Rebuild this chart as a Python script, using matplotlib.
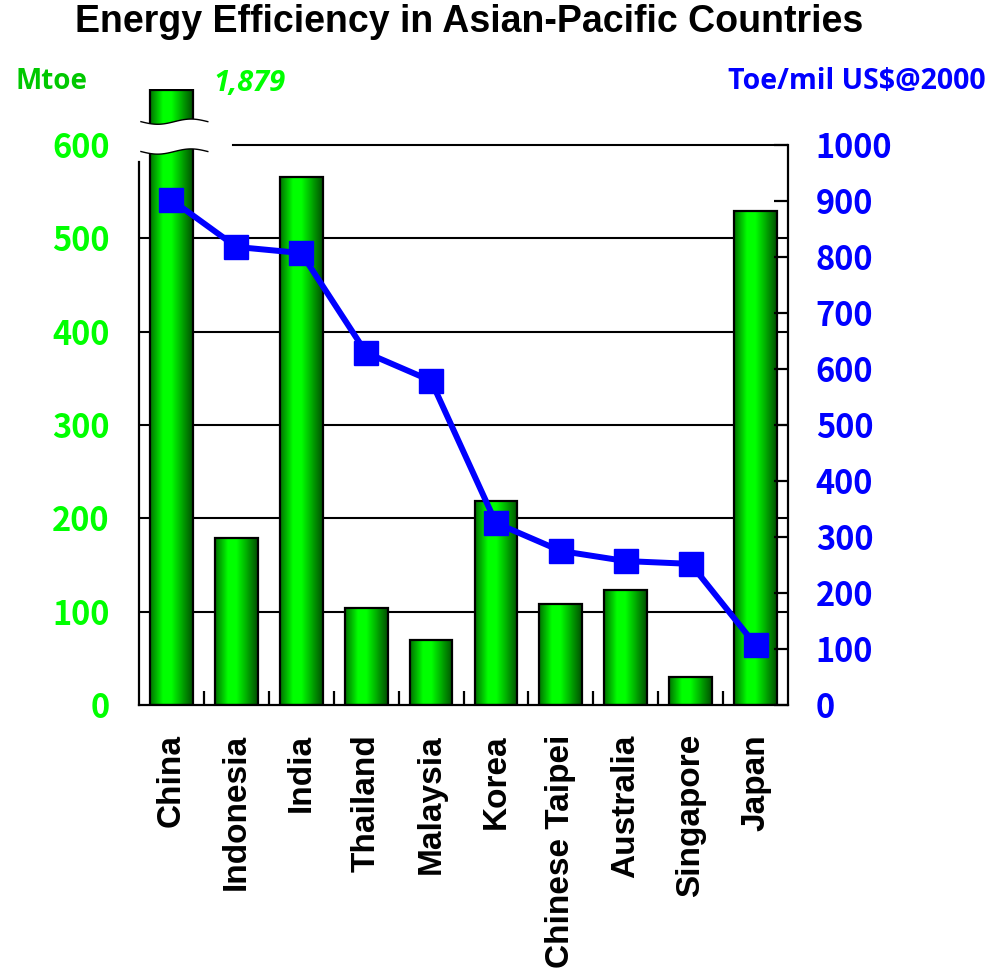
import numpy as np
import matplotlib
matplotlib.use("Agg")
import matplotlib.pyplot as plt
from matplotlib.colors import LinearSegmentedColormap
from matplotlib.patches import Polygon

countries = ["China", "Indonesia", "India", "Thailand", "Malaysia", "Korea",
             "Chinese Taipei", "Australia", "Singapore", "Japan"]
# primary energy supply, Mtoe
supply = [1879, 179, 566, 104, 70, 219, 108, 123, 30, 529]
# energy intensity, toe per million US$ (2000 prices)
intensity = [902, 818, 807, 629, 579, 325, 275, 257, 252, 107]

left_ticks = [0, 100, 200, 300, 400, 500, 600]
right_ticks = [0, 100, 200, 300, 400, 500, 600, 700, 800, 900, 1000]

Y_CAP = 659      # bars taller than the axis are cut here
Y_TOP = 660
GREEN = "#00ff00"
BLUE = "#0000ff"

bar_cmap = LinearSegmentedColormap.from_list(
    "bar", [(0.0, (0, 0.45, 0)), (0.3, (0, 1, 0)), (0.5, (0, 1, 0)),
            (1.0, (0, 0.32, 0))])

fig = plt.figure(figsize=(9.9, 9.73), dpi=100)
ax = fig.add_axes([0.1404, 0.27544, 0.6556, 0.6331])
ax2 = ax.twinx()

x = np.arange(len(countries))
width = 0.66
ax.set_xlim(-0.5, len(countries) - 0.5)
ax.set_ylim(0, Y_TOP)

# gridlines (the 600 line only spans past the broken bar)
for v in left_ticks[1:-1]:
    ax.axhline(v, color="black", lw=1.5, zorder=1)
ax.plot([0.95, len(countries) - 0.5], [600, 600], color="black", lw=1.5, zorder=1)

grad = bar_cmap(np.linspace(0, 1, 64))[np.newaxis, :, :]
for xi, v in zip(x, supply):
    h = min(v, Y_CAP)
    rect = ax.bar(xi, h, width=width, color="none", edgecolor="black",
                  linewidth=1.6, zorder=3)[0]
    im = ax.imshow(grad, extent=[xi - width / 2, xi + width / 2, 0, h],
                   aspect="auto", zorder=2, interpolation="bilinear")
    im.set_clip_path(rect)
ax.set_xlim(-0.5, len(countries) - 0.5)
ax.set_ylim(0, Y_TOP)

# axis break across the tallest bar
t = np.linspace(0, 1, 60)
bx = -0.47 + t * 1.03
wave = 2.8 * np.sin(2 * np.pi * t)
upper = 625 - wave
lower = 593 - wave
ax.add_patch(Polygon(np.column_stack([np.r_[bx, bx[::-1]], np.r_[upper, lower[::-1]]]),
                     closed=True, facecolor="white", edgecolor="none", zorder=4))
ax.plot(bx, upper, color="black", lw=1.0, zorder=5)
ax.plot(bx, lower, color="black", lw=1.0, zorder=5)
ax.text(1.2, 666, f"{supply[0]:,}", color=GREEN, fontsize=21, fontweight="bold",
        fontstyle="italic", family="Open Sans", ha="center", va="center")

for s in ["top", "right"]:
    ax.spines[s].set_visible(False)
ax.spines["left"].set_bounds(0, 582)
for s in ["left", "bottom"]:
    ax.spines[s].set_linewidth(1.6)

ax.set_yticks(left_ticks)
ax.set_yticklabels([str(v) for v in left_ticks], color=GREEN, fontsize=23.5,
                   fontweight="bold", family="Noto Sans CJK JP")
ax.tick_params(axis="y", length=0, pad=21)
ax.set_xticks(x)
ax.set_xticklabels(countries, rotation=90, fontsize=24, fontweight="bold",
                   family="Liberation Sans")
ax.tick_params(axis="x", length=0, pad=21)
ax.set_xticks(x[:-1] + 0.5, minor=True)
ax.tick_params(axis="x", which="minor", direction="in", length=10, width=1.6)

# intensity on the right axis
ax2.set_ylim(0, Y_TOP * 1000 / 600)
ax2.plot(x, intensity, color=BLUE, lw=4.3, marker="s", markersize=17, zorder=6)
for s in ["top", "left", "bottom"]:
    ax2.spines[s].set_visible(False)
ax2.spines["right"].set_bounds(0, 1000)
ax2.spines["right"].set_linewidth(1.6)
ax2.set_yticks(right_ticks)
ax2.set_yticklabels([str(v) for v in right_ticks], color=BLUE, fontsize=23.5,
                    fontweight="bold", family="Noto Sans CJK JP")
ax2.tick_params(axis="y", direction="in", length=10, width=1.6, pad=20)

fig.text(0.474, 0.977, "Energy Efficiency in Asian-Pacific Countries",
         fontsize=27, fontweight="bold", family="Liberation Sans",
         ha="center", va="center")
fig.text(0.052, 0.916, "Mtoe", color="#00c800", fontsize=20, fontweight="bold",
         family="Open Sans", ha="center", va="center")
fig.text(0.865, 0.916, "Toe/mil US$@2000", color=BLUE, fontsize=20.5,
         fontweight="bold", family="Open Sans", ha="center", va="center")

fig.savefig("out.png", dpi=100)
